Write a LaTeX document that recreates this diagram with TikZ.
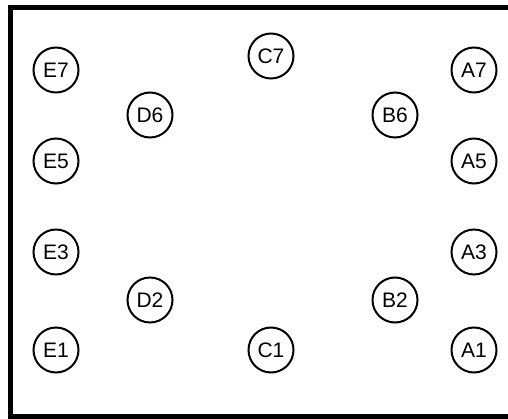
\documentclass[tikz,border=0pt]{standalone}
\usepackage{fontspec}
\setmainfont{Liberation Sans}
\begin{document}
\begin{tikzpicture}[x=1pt,y=-1pt,
  pin/.style={circle,draw=black,line width=2pt,minimum size=45pt,inner sep=0pt,font=\fontsize{21}{21}\selectfont}]
\useasboundingbox (0,0) rectangle (508,419);
\draw[line width=5pt] (520,8) -- (10,8) -- (10,416.5) -- (520,416.5);
\node[pin] (E7) at (56,70) {E7};
\node[pin] (C7) at (271,56) {C7};
\node[pin] (A7) at (474,70) {A7};
\node[pin] (D6) at (150,115) {D6};
\node[pin] (B6) at (395,115) {B6};
\node[pin] (E5) at (56,161) {E5};
\node[pin] (A5) at (474,161) {A5};
\node[pin] (E3) at (56,252) {E3};
\node[pin] (A3) at (474,252) {A3};
\node[pin] (D2) at (150,300) {D2};
\node[pin] (B2) at (395,300) {B2};
\node[pin] (E1) at (56,350) {E1};
\node[pin] (C1) at (271,350) {C1};
\node[pin] (A1) at (474,350) {A1};
\end{tikzpicture}
\end{document}
